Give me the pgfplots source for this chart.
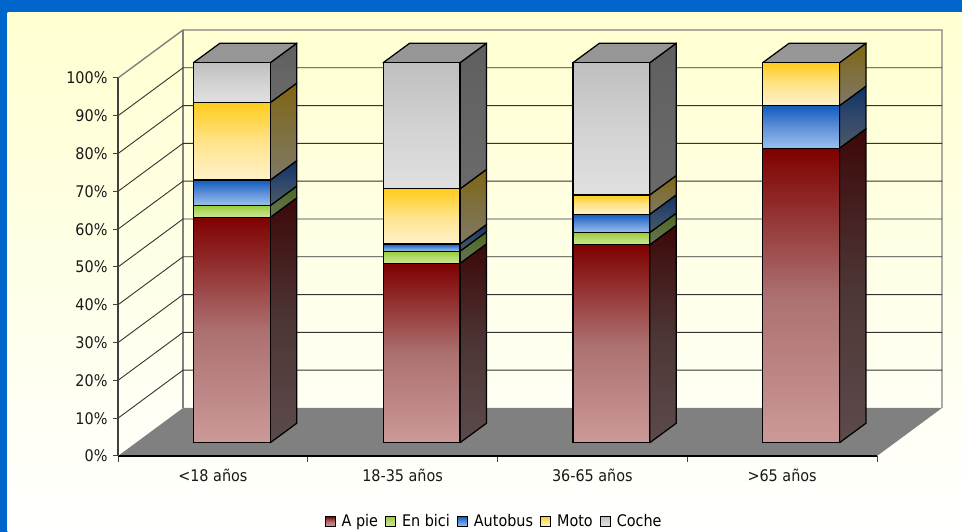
\documentclass[border=0pt]{standalone}
\usepackage{fontspec}
\setmainfont{DejaVu Sans Condensed}
\usepackage{pgfplots}
\pgfplotsset{compat=1.18}
\definecolor{frame}{HTML}{0066CC}
\definecolor{panel}{HTML}{FFFFD0}
\definecolor{floor}{HTML}{808080}
\definecolor{wall}{HTML}{808080}
\definecolor{topf}{HTML}{969696}
\definecolor{aT}{HTML}{7F0000}\definecolor{aM}{HTML}{AC7070}\definecolor{aB}{HTML}{CC9999}
\definecolor{aST}{HTML}{3D0808}\definecolor{aSM}{HTML}{4D3535}\definecolor{aSB}{HTML}{5C4B4B}
\definecolor{bT}{HTML}{99CC33}\definecolor{bM}{HTML}{B5DB70}\definecolor{bB}{HTML}{CCE68C}
\definecolor{bST}{HTML}{4C6619}\definecolor{bSM}{HTML}{5A6E3C}\definecolor{bSB}{HTML}{66735A}
\definecolor{cT}{HTML}{0F5CBE}\definecolor{cM}{HTML}{5F90D8}\definecolor{cB}{HTML}{99C2EE}
\definecolor{cST}{HTML}{0F3366}\definecolor{cSM}{HTML}{30486A}\definecolor{cSB}{HTML}{4C5A66}
\definecolor{dT}{HTML}{FFCC1A}\definecolor{dM}{HTML}{FFE38A}\definecolor{dB}{HTML}{FFF2CC}
\definecolor{dST}{HTML}{7F6610}\definecolor{dSM}{HTML}{7F7040}\definecolor{dSB}{HTML}{7F7966}
\definecolor{eT}{HTML}{BFBFBF}\definecolor{eM}{HTML}{D2D2D2}\definecolor{eB}{HTML}{E0E0E0}
\definecolor{eST}{HTML}{5F5F5F}\definecolor{eSM}{HTML}{656565}\definecolor{eSB}{HTML}{6A6A6A}
\newcommand\gridv[1]{%
  \pgfmathsetmacro\yb{#1+12.7}%
  \addplot[black!80,line width=0.9pt] coordinates {(0,#1)(0.3426,\yb)(4.3426,\yb)};}
\newcommand\topface[1]{%
  \pgfmathsetmacro\xl{#1-0.2025}\pgfmathsetmacro\xa{#1+0.2025}%
  \pgfmathsetmacro\xc{\xl+0.1397}\pgfmathsetmacro\xb{\xa+0.1397}%
  \addplot[draw=black,line width=1.25pt,fill=topf,line join=round]
    coordinates {(\xl,100)(\xc,105.13)(\xb,105.13)(\xa,100)} -- cycle;}
\tikzset{
  fa/.style={top color=aT,bottom color=aB,middle color=aM},
  fb/.style={top color=bT,bottom color=bB,middle color=bM},
  fc/.style={top color=cT,bottom color=cB,middle color=cM},
  fd/.style={top color=dT,bottom color=dB,middle color=dM},
  fe/.style={top color=eT,bottom color=eB,middle color=eM},
  sa/.style={top color=aST,bottom color=aSB,middle color=aSM},
  sb/.style={top color=bST,bottom color=bSB,middle color=bSM},
  sc/.style={top color=cST,bottom color=cSB,middle color=cSM},
  sd/.style={top color=dST,bottom color=dSB,middle color=dSM},
  se/.style={top color=eST,bottom color=eSB,middle color=eSM},
}
% one stacked column: x, then A pie, En bici, Autobus, Moto, Coche
\newcommand\column[6]{%
  \addplot[draw=black,line width=1.25pt,fa] coordinates {(#1,#2)};
  \addplot[draw=black,line width=1.25pt,fb] coordinates {(#1,#3)};
  \addplot[draw=black,line width=1.25pt,fc] coordinates {(#1,#4)};
  \addplot[draw=black,line width=1.25pt,fd] coordinates {(#1,#5)};
  \addplot[draw=black,line width=1.25pt,fe] coordinates {(#1,#6)};}
\pgfplotsset{
  barsaxis/.style={at={(118pt,89.3pt)},anchor=south west,scale only axis,
    width=759pt,height=380pt,xmin=0,xmax=4,ymin=0,ymax=100,clip=false,hide axis},
  frontaxis/.style={barsaxis,ybar stacked,bar width=76.8pt},
}
\begin{document}
\fontsize{16}{19}\selectfont
\begin{tikzpicture}[x=1pt,y=1pt]
\path[use as bounding box] (0,0) rectangle (962,532);
\fill[frame] (0,0) rectangle (962,532);
\shade[top color=panel,bottom color=white] (7.5,0) rectangle (962,519.5);
% furniture: floor, walls, axes
\begin{axis}[at={(118pt,76pt)},anchor=south west,scale only axis,
  width=759pt,height=378pt,xmin=0,xmax=4,ymin=0,ymax=100,clip=false,
  axis on top,
  axis x line*=bottom,axis y line*=left,
  axis line style={-,line width=1.1pt},
  x axis line style={black},y axis line style={black!75},
  tick align=outside,
  major tick length=5pt,minor tick length=6pt,
  tick style={line width=1pt,black!75},
  xtick={0.5,1.5,2.5,3.5},
  xticklabels={{<18 años},{18-35 años},{36-65 años},{>65 años}},
  x tick style={draw=none},
  minor x tick style={draw=black!75,line width=1pt},
  minor xtick={0,1,2,3,4},
  ytick={0,10,...,100},
  yticklabel={\pgfmathprintnumber{\tick}\%},
  /pgf/number format/assume math mode=true,
  tick label style={font=\fontsize{16}{19}\selectfont,text=black!90},
  xticklabel style={yshift=-3pt},
]
\addplot[fill=floor,draw=none] coordinates {(0,0)(0.3426,12.7)(4.3426,12.7)(4,0)} -- cycle;
\addplot[wall,line width=1.4pt] coordinates {(0,100)(0.3426,112.7)(4.3426,112.7)(4.3426,12.7)};
\addplot[wall,line width=1.4pt] coordinates {(0.3426,112.7)(0.3426,12.7)};
\gridv{10}\gridv{20}\gridv{30}\gridv{40}\gridv{50}\gridv{60}\gridv{70}\gridv{80}\gridv{90}
\end{axis}
% side and top faces of the columns
\begin{axis}[barsaxis]
\addplot[draw=black,line width=1.25pt,line join=round,sa] coordinates {(0.8025,0)(0.9422,5.13)(0.9422,64.43)(0.8025,59.3)} -- cycle;
\addplot[draw=black,line width=1.25pt,line join=round,sb] coordinates {(0.8025,59.3)(0.9422,64.43)(0.9422,67.53)(0.8025,62.4)} -- cycle;
\addplot[draw=black,line width=1.25pt,line join=round,sc] coordinates {(0.8025,62.4)(0.9422,67.53)(0.9422,74.23)(0.8025,69.1)} -- cycle;
\addplot[draw=black,line width=1.25pt,line join=round,sd] coordinates {(0.8025,69.1)(0.9422,74.23)(0.9422,94.63)(0.8025,89.5)} -- cycle;
\addplot[draw=black,line width=1.25pt,line join=round,se] coordinates {(0.8025,89.5)(0.9422,94.63)(0.9422,105.13)(0.8025,100)} -- cycle;
\topface{0.6}
\addplot[draw=black,line width=1.25pt,line join=round,sa] coordinates {(1.8025,0)(1.9422,5.13)(1.9422,52.33)(1.8025,47.2)} -- cycle;
\addplot[draw=black,line width=1.25pt,line join=round,sb] coordinates {(1.8025,47.2)(1.9422,52.33)(1.9422,55.53)(1.8025,50.4)} -- cycle;
\addplot[draw=black,line width=1.25pt,line join=round,sc] coordinates {(1.8025,50.4)(1.9422,55.53)(1.9422,57.43)(1.8025,52.3)} -- cycle;
\addplot[draw=black,line width=1.25pt,line join=round,sd] coordinates {(1.8025,52.3)(1.9422,57.43)(1.9422,71.93)(1.8025,66.8)} -- cycle;
\addplot[draw=black,line width=1.25pt,line join=round,se] coordinates {(1.8025,66.8)(1.9422,71.93)(1.9422,105.13)(1.8025,100)} -- cycle;
\topface{1.6}
\addplot[draw=black,line width=1.25pt,line join=round,sa] coordinates {(2.8025,0)(2.9422,5.13)(2.9422,57.23)(2.8025,52.1)} -- cycle;
\addplot[draw=black,line width=1.25pt,line join=round,sb] coordinates {(2.8025,52.1)(2.9422,57.23)(2.9422,60.43)(2.8025,55.3)} -- cycle;
\addplot[draw=black,line width=1.25pt,line join=round,sc] coordinates {(2.8025,55.3)(2.9422,60.43)(2.9422,65.23)(2.8025,60.1)} -- cycle;
\addplot[draw=black,line width=1.25pt,line join=round,sd] coordinates {(2.8025,60.1)(2.9422,65.23)(2.9422,70.33)(2.8025,65.2)} -- cycle;
\addplot[draw=black,line width=1.25pt,line join=round,se] coordinates {(2.8025,65.2)(2.9422,70.33)(2.9422,105.13)(2.8025,100)} -- cycle;
\topface{2.6}
\addplot[draw=black,line width=1.25pt,line join=round,sa] coordinates {(3.8025,0)(3.9422,5.13)(3.9422,82.63)(3.8025,77.5)} -- cycle;
\addplot[draw=black,line width=1.25pt,line join=round,sc] coordinates {(3.8025,77.5)(3.9422,82.63)(3.9422,93.83)(3.8025,88.7)} -- cycle;
\addplot[draw=black,line width=1.25pt,line join=round,sd] coordinates {(3.8025,88.7)(3.9422,93.83)(3.9422,105.13)(3.8025,100)} -- cycle;
\topface{3.6}
\end{axis}
% front faces: one stacked axis per column, so each segment has its own gradient
\begin{axis}[frontaxis,
  legend columns=-1,
  legend style={at={(0.4955,-0.2075)},anchor=center,draw=none,fill=none,
    font=\fontsize{16}{19}\selectfont,inner sep=0pt,
    /tikz/every even column/.append style={column sep=5pt},
    /tikz/every odd column/.append style={column sep=4pt}},
  legend image code/.code={\draw[#1,line width=1pt] (0pt,-5pt) rectangle (10pt,5pt);},
]
\column{0.6}{59.3}{3.1}{6.7}{20.4}{10.5}
\legend{A pie,En bici,Autobus,Moto,Coche}
\end{axis}
\begin{axis}[frontaxis]
\column{1.6}{47.2}{3.2}{1.9}{14.5}{33.2}
\end{axis}
\begin{axis}[frontaxis]
\column{2.6}{52.1}{3.2}{4.8}{5.1}{34.8}
\end{axis}
\begin{axis}[frontaxis]
\column{3.6}{77.5}{0}{11.2}{11.3}{0}
\end{axis}
\end{tikzpicture}
\end{document}
